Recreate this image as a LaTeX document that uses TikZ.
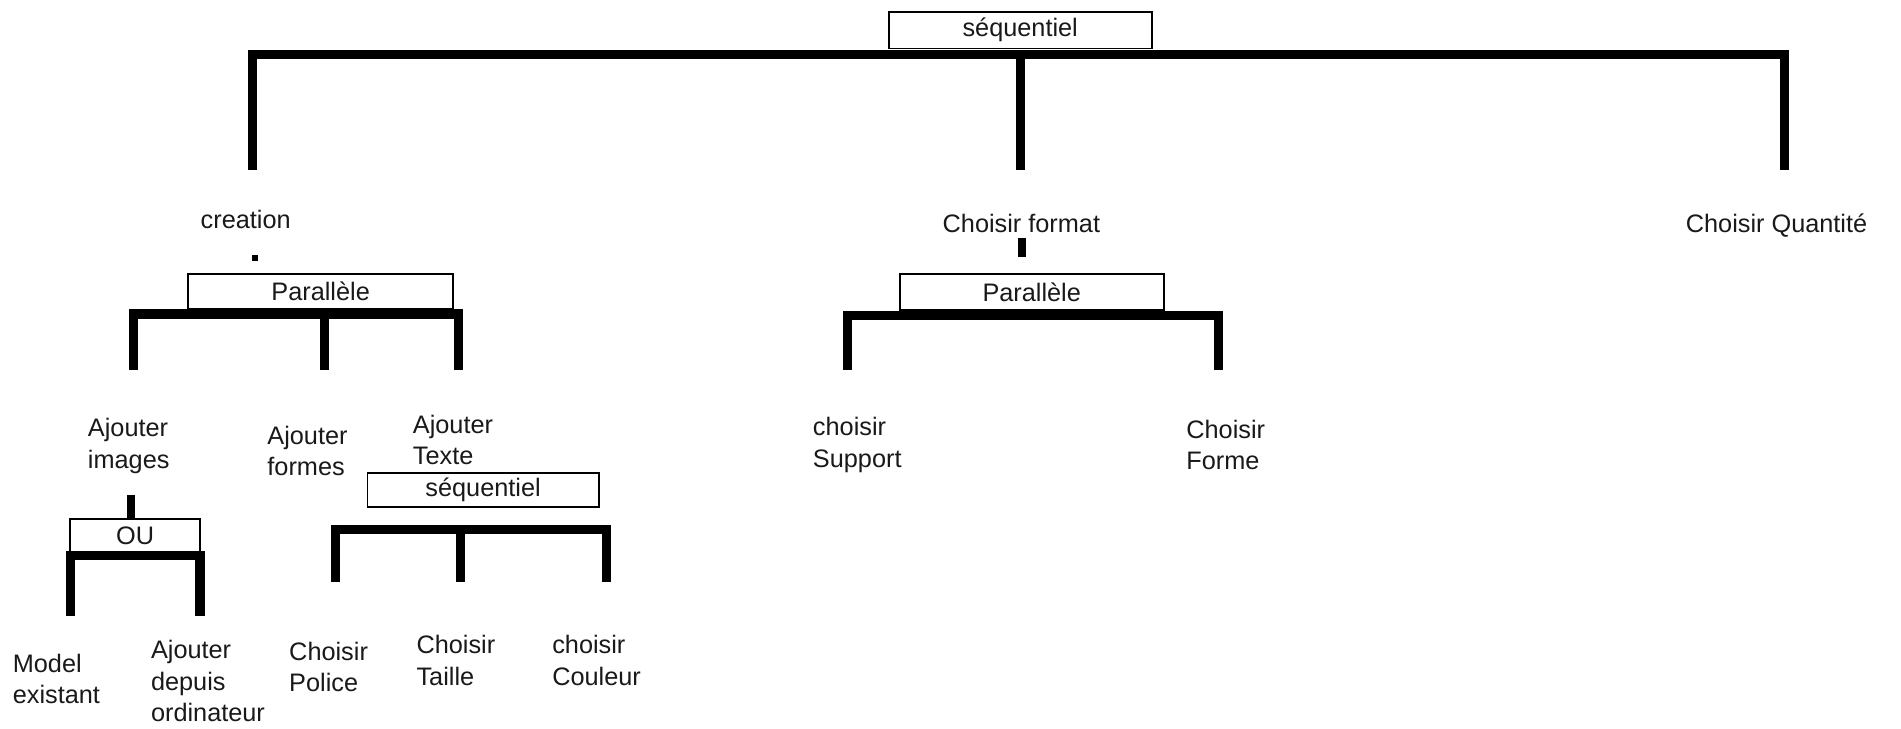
\documentclass[tikz,border=0pt]{standalone}
\usepackage{fontspec}
\setmainfont{Liberation Sans}
\begin{document}
\begin{tikzpicture}[x=0.012124cm,y=-0.012124cm,
  lbl/.style={font=\fontsize{7.2}{9}\selectfont, align=left, inner sep=0pt, anchor=west, text=black!90},
  opbox/.style={draw, line width=0.5pt, inner sep=0pt, font=\fontsize{7.2}{9}\selectfont, text=black!90},
  bar/.style={line width=2.6pt, line cap=rect},
  drop/.style={line width=2.6pt}]
\newcommand{\boxtxt}[1]{\raisebox{-1.3pt}{#1}}
\useasboundingbox (0,0) rectangle (1568,601);
% top level
\node[opbox, minimum width=2.63cm, minimum height=0.364cm] (seqA) at (841.5,25) {\boxtxt{séquentiel}};
\coordinate (tL) at (208,45); \coordinate (tM) at (842,45); \coordinate (tR) at (1472,45);
\coordinate (tLb) at (208,140); \coordinate (tMb) at (842,140); \coordinate (tRb) at (1472,140);
\draw[bar] (tL) -- (tR);
\draw[drop] (tL) -- (tLb);
\draw[drop] (tM) -- (tMb);
\draw[drop] (tR) -- (tRb);
\node[lbl] (creation) at (165,181) {creation};
\node[lbl] (format) at (777,184) {Choisir format};
\node[lbl] (quant) at (1390,186) {Choisir Quantité};
% creation branch
\fill (207.5,210.5) rectangle (212.5,215.5);
\node[opbox, minimum width=2.655cm, minimum height=0.352cm] (parA) at (264.5,240.5) {\boxtxt{Parallèle}};
\coordinate (pL) at (110,259); \coordinate (pM) at (268,259); \coordinate (pR) at (378,259);
\coordinate (pLb) at (110,305); \coordinate (pMb) at (268,305); \coordinate (pRb) at (378,305);
\draw[bar] (pL) -- (pR);
\draw[drop] (pL) -- (pLb);
\draw[drop] (pM) -- (pMb);
\draw[drop] (pR) -- (pRb);
\node[lbl] (images) at (72,368) {Ajouter\\images};
\node[lbl] (formes) at (220,372) {Ajouter\\formes};
\node[lbl] (texte) at (340,363) {Ajouter\\Texte};
% OU
\node[opbox, minimum width=1.297cm, minimum height=0.34cm] (ou) at (111.5,442) {\boxtxt{OU}};
\coordinate (ouS) at (108,408);
\draw[line width=2.4pt] (ouS) -- (ou.north -| ouS);
\coordinate (oL) at (58,458); \coordinate (oR) at (165,458);
\coordinate (oLb) at (58,508); \coordinate (oRb) at (165,508);
\draw[bar] (oL) -- (oR);
\draw[drop] (oL) -- (oLb);
\draw[drop] (oR) -- (oRb);
\node[lbl] (model) at (10,560) {Model\\existant};
\node[lbl] (depuis) at (124,562) {Ajouter\\depuis\\ordinateur};
% sequentiel 2
\node[opbox, minimum width=2.316cm, minimum height=0.34cm] (seqB) at (398.5,404) {\boxtxt{séquentiel}};
\coordinate (sL) at (277,437); \coordinate (sM) at (380,437); \coordinate (sR) at (500,437);
\coordinate (sLb) at (277,480); \coordinate (sMb) at (380,480); \coordinate (sRb) at (500,480);
\draw[bar] (sL) -- (sR);
\draw[drop] (sL) -- (sLb);
\draw[drop] (sM) -- (sMb);
\draw[drop] (sR) -- (sRb);
\node[lbl] (police) at (238,550) {Choisir\\Police};
\node[lbl] (taille) at (343,545) {Choisir\\Taille};
\node[lbl] (couleur) at (455,545) {choisir\\Couleur};
% format branch
\coordinate (fS) at (843,196); \coordinate (fSb) at (843,212);
\draw[line width=2.4pt] (fS) -- (fSb);
\node[opbox, minimum width=2.643cm, minimum height=0.364cm] (parB) at (851,241) {\boxtxt{Parallèle}};
\coordinate (qL) at (699,260); \coordinate (qR) at (1005,260);
\coordinate (qLb) at (699,305); \coordinate (qRb) at (1005,305);
\draw[bar] (qL) -- (qR);
\draw[drop] (qL) -- (qLb);
\draw[drop] (qR) -- (qRb);
\node[lbl] (support) at (670,367) {choisir\\Support};
\node[lbl] (forme) at (978,367) {Choisir\\Forme};
\end{tikzpicture}
\end{document}
